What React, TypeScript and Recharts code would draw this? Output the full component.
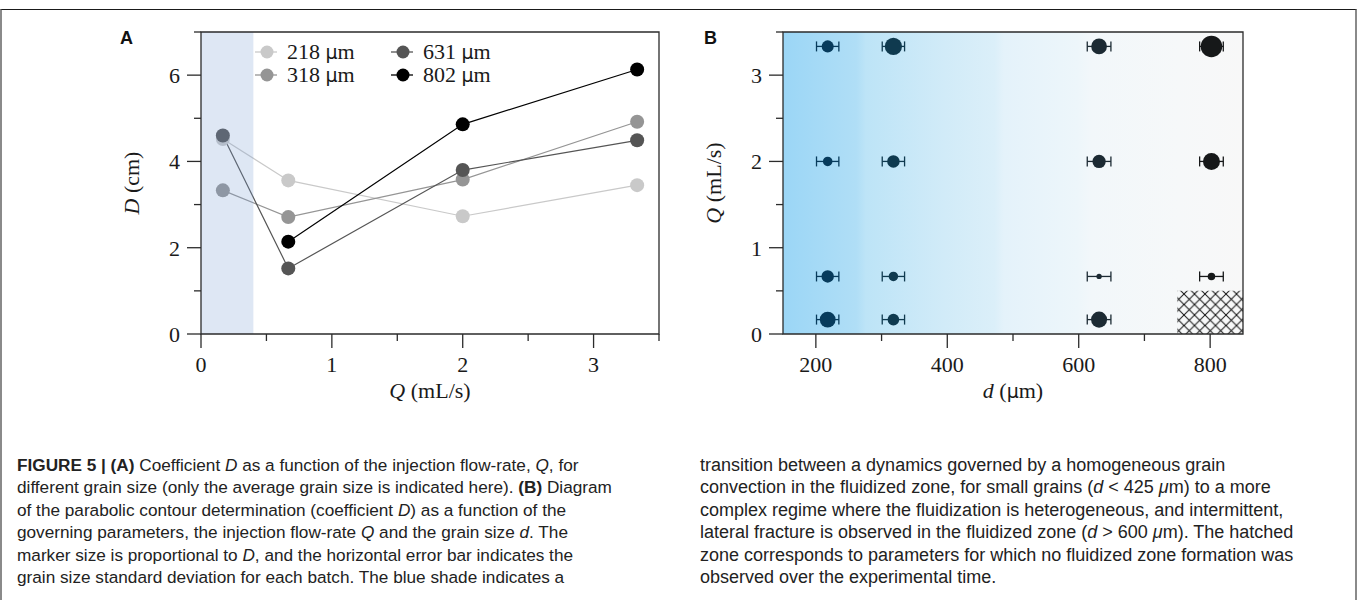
import React from "react";
import {
  ErrorBar,
  Label,
  Legend,
  Line,
  LineChart,
  ReferenceArea,
  Scatter,
  ScatterChart,
  XAxis,
  YAxis,
} from "recharts";

// injection flow-rate Q (mL/s) and grain sizes d (µm)
const flowRates = [0.167, 0.667, 2, 3.333];
const grainSizes = [218, 318, 631, 802];
const grainStd = [17, 17, 18, 18];

// coefficient D (cm), one list per grain size, same order as flowRates
const coefD218 = [4.52, 3.56, 2.73, 3.45];
const coefD318 = [3.33, 2.71, 3.58, 4.92];
const coefD631 = [4.6, 1.52, 3.8, 4.49];
const coefD802 = [null, 2.14, 4.86, 6.13];
const coefD = [coefD218, coefD318, coefD631, coefD802];

const greyColors = ["#c9c9c9", "#959595", "#555555", "#000000"];
const blueColors = ["#073b5c", "#0f3a4f", "#1c2a33", "#161819"];

const qTicksA = [0, 0.5, 1, 1.5, 2, 2.5, 3, 3.5];
const qMajorA = [0, 1, 2, 3];
const dTicksA = [0, 1, 2, 3, 4, 5, 6, 7];
const dMajorA = [0, 2, 4, 6];
const sizeTicksB = [200, 300, 400, 500, 600, 700, 800];
const sizeMajorB = [200, 400, 600, 800];
const qTicksB = [0, 0.5, 1, 1.5, 2, 2.5, 3, 3.5];
const qMajorB = [0, 1, 2, 3];

const seriesA = grainSizes.map((g, i) => ({
  name: String(g),
  color: greyColors[i],
  points: flowRates
    .map((q, j) => ({ Q: q, D: coefD[i][j] }))
    .filter((p) => p.D !== null),
}));

const seriesB = grainSizes.map((g, i) => ({
  name: String(g),
  color: blueColors[i],
  points: flowRates
    .map((q, j) => ({ d: g, Q: q, D: coefD[i][j], err: grainStd[i] }))
    .filter((p) => p.D !== null),
}));

const SERIF = "'Liberation Serif', 'DejaVu Serif', serif";
const MU = "'DejaVu Sans', sans-serif";
const SANS = "'Liberation Sans', Arial, sans-serif";
const AXIS = "#2b2b2b";
const TEXT = "#1a1a1a";
const MARKER_SCALE = 1.75; // px of radius per cm of D

function BottomTick(props: any) {
  const { x, y, payload, majors } = props;
  const major = majors.includes(payload.value);
  const len = major ? 14 : 7;
  return (
    <g>
      <line x1={x} x2={x} y1={y} y2={y + len} stroke={AXIS} strokeWidth={1.3} />
      {major && (
        <text x={x} y={y + 38} textAnchor="middle" fontFamily={SERIF} fontSize={22} fill={TEXT}>
          {payload.value}
        </text>
      )}
    </g>
  );
}

function LeftTick(props: any) {
  const { x, y, payload, majors } = props;
  const major = majors.includes(payload.value);
  const len = major ? 14 : 7;
  return (
    <g>
      <line x1={x - len} x2={x} y1={y} y2={y} stroke={AXIS} strokeWidth={1.3} />
      {major && (
        <text x={x - 21} y={y + 8} textAnchor="end" fontFamily={SERIF} fontSize={22} fill={TEXT}>
          {payload.value}
        </text>
      )}
    </g>
  );
}

function XTitle({ viewBox, italic, rest, mu }: any) {
  const vb = viewBox || { x: 0, y: 0, width: 0 };
  return (
    <text x={vb.x + vb.width / 2} y={vb.y + 64} textAnchor="middle" fontFamily={SERIF} fontSize={22} fill={TEXT}>
      <tspan fontStyle="italic">{italic}</tspan>
      {mu ? (
        <>
          <tspan> (</tspan>
          <tspan fontFamily={MU} fontSize={19}>μ</tspan>
          <tspan>m)</tspan>
        </>
      ) : (
        <tspan>{rest}</tspan>
      )}
    </text>
  );
}

function YTitle({ viewBox, italic, rest, dx }: any) {
  const vb = viewBox || { x: 0, y: 0, width: 0, height: 0 };
  const cx = vb.x + vb.width - dx;
  const cy = vb.y + vb.height / 2;
  return (
    <text
      x={cx}
      y={cy}
      transform={`rotate(-90, ${cx}, ${cy})`}
      textAnchor="middle"
      dominantBaseline="central"
      fontFamily={SERIF}
      fontSize={22}
      fill={TEXT}
    >
      <tspan fontStyle="italic">{italic}</tspan>
      <tspan>{rest}</tspan>
    </text>
  );
}

function GrainLegend({ payload }: any) {
  const items = payload || [];
  return (
    <div
      style={{
        display: "grid",
        gridTemplateRows: "repeat(2, 23px)",
        gridAutoFlow: "column",
        gridAutoColumns: "136px",
      }}
    >
      {items.map((item: any) => (
        <div key={item.value} style={{ display: "flex", alignItems: "center", height: 23 }}>
          <svg width={22} height={16} style={{ flex: "none" }}>
            <line x1={0} x2={22} y1={8} y2={8} stroke={item.color} strokeWidth={1.3} />
            <circle cx={12} cy={8} r={6.5} fill={item.color} />
          </svg>
          <span style={{ marginLeft: 10, fontFamily: SERIF, fontSize: 22, color: TEXT, lineHeight: "23px", whiteSpace: "nowrap" }}>
            {item.value} <span style={{ fontFamily: MU, fontSize: 19 }}>μ</span>m
          </span>
        </div>
      ))}
    </div>
  );
}

function SizedDot(props: any) {
  const { cx, cy, payload, fill } = props;
  if (cx == null || cy == null) return null;
  return <circle cx={cx} cy={cy} r={MARKER_SCALE * payload.D} fill={fill} />;
}

function PanelA() {
  return (
    <LineChart width={680} height={430} margin={{ top: 32, right: 21, bottom: 95, left: 200 }}>
      <XAxis
        dataKey="Q"
        type="number"
        domain={[0, 3.5]}
        ticks={qTicksA}
        height={1}
        tickSize={0}
        tickMargin={0}
        axisLine={false}
        tickLine={false}
        interval={0}
        tick={(p: any) => <BottomTick {...p} majors={qMajorA} />}
      >
        <Label content={(p: any) => <XTitle viewBox={p.viewBox} italic="Q" rest=" (mL/s)" />} />
      </XAxis>
      <YAxis
        type="number"
        domain={[0, 7]}
        ticks={dTicksA}
        width={1}
        tickSize={0}
        tickMargin={0}
        axisLine={false}
        tickLine={false}
        interval={0}
        tick={(p: any) => <LeftTick {...p} majors={dMajorA} />}
      >
        <Label content={(p: any) => <YTitle viewBox={p.viewBox} italic="D" rest=" (cm)" dx={70} />} />
      </YAxis>
      {seriesA.map((s) => (
        <Line
          key={s.name}
          data={s.points}
          dataKey="D"
          name={s.name}
          stroke={s.color}
          strokeWidth={1.2}
          dot={{ r: 7, fill: s.color, stroke: "none" }}
          activeDot={false}
          isAnimationActive={false}
        />
      ))}
      <ReferenceArea x1={0} x2={0.4} fill="#7a9fd4" fillOpacity={0.25} stroke="none" zIndex={1500} />
      <ReferenceArea x1={0} x2={3.5} y1={0} y2={7} fill="none" stroke={AXIS} strokeWidth={1.3} zIndex={1600} />
      <Legend
        layout="horizontal"
        verticalAlign="middle"
        align="center"
        wrapperStyle={{ left: 255, top: 40, width: "auto", height: "auto" }}
        content={(p: any) => <GrainLegend payload={p.payload} />}
      />
    </LineChart>
  );
}

function PanelB() {
  return (
    <ScatterChart width={590} height={430} margin={{ top: 32, right: 27, bottom: 95, left: 102 }}>
      <defs>
        <linearGradient id="fluidShade" x1="0" x2="1" y1="0" y2="0">
          <stop offset="0" stopColor="#9bd6f6" />
          <stop offset="0.16" stopColor="#b0def6" />
          <stop offset="0.18" stopColor="#bde4f7" />
          <stop offset="0.35" stopColor="#d1ebf8" />
          <stop offset="0.46" stopColor="#dbeff9" />
          <stop offset="0.48" stopColor="#e4f2fa" />
          <stop offset="0.64" stopColor="#edf6fa" />
          <stop offset="0.67" stopColor="#f2f7fa" />
          <stop offset="0.86" stopColor="#f6f8f9" />
          <stop offset="1" stopColor="#f8f8f8" />
        </linearGradient>
        <pattern id="crossHatch" patternUnits="userSpaceOnUse" width={10.5} height={10.5}>
          <path d="M0,0 L10.5,10.5 M10.5,0 L0,10.5" stroke="#111" strokeWidth={1} />
        </pattern>
      </defs>
      <XAxis
        dataKey="d"
        type="number"
        domain={[150, 850]}
        ticks={sizeTicksB}
        height={1}
        tickSize={0}
        tickMargin={0}
        axisLine={false}
        tickLine={false}
        interval={0}
        tick={(p: any) => <BottomTick {...p} majors={sizeMajorB} />}
      >
        <Label content={(p: any) => <XTitle viewBox={p.viewBox} italic="d" mu />} />
      </XAxis>
      <YAxis
        dataKey="Q"
        type="number"
        domain={[0, 3.5]}
        ticks={qTicksB}
        width={1}
        tickSize={0}
        tickMargin={0}
        axisLine={false}
        tickLine={false}
        interval={0}
        tick={(p: any) => <LeftTick {...p} majors={qMajorB} />}
      >
        <Label content={(p: any) => <YTitle viewBox={p.viewBox} italic="Q" rest=" (mL/s)" dx={70} />} />
      </YAxis>
      <ReferenceArea x1={150} x2={850} y1={0} y2={3.5} fill="url(#fluidShade)" fillOpacity={1} stroke="none" />
      <ReferenceArea x1={750} x2={850} y1={0} y2={0.5} fill="url(#crossHatch)" fillOpacity={1} stroke="none" />
      {seriesB.map((s) => (
        <Scatter
          key={s.name}
          data={s.points}
          name={s.name}
          fill={s.color}
          shape={<SizedDot />}
          isAnimationActive={false}
        >
          <ErrorBar dataKey="err" direction="x" width={5} stroke={s.color} strokeWidth={1.3} />
        </Scatter>
      ))}
      <ReferenceArea x1={150} x2={850} y1={0} y2={3.5} fill="none" stroke={AXIS} strokeWidth={1.3} zIndex={1600} />
    </ScatterChart>
  );
}

const captionLeft = [
  [["b", "FIGURE 5 | (A)"], ["", " Coefficient "], ["i", "D"], ["", " as a function of the injection flow-rate, "], ["i", "Q"], ["", ", for"]],
  [["", "different grain size (only the average grain size is indicated here). "], ["b", "(B)"], ["", " Diagram"]],
  [["", "of the parabolic contour determination (coefficient "], ["i", "D"], ["", ") as a function of the"]],
  [["", "governing parameters, the injection flow-rate "], ["i", "Q"], ["", " and the grain size "], ["i", "d"], ["", ". The"]],
  [["", "marker size is proportional to "], ["i", "D"], ["", ", and the horizontal error bar indicates the"]],
  [["", "grain size standard deviation for each batch. The blue shade indicates a"]],
];

const captionRight = [
  [["", "transition between a dynamics governed by a homogeneous grain"]],
  [["", "convection in the fluidized zone, for small grains ("], ["i", "d"], ["", " < 425 "], ["i", "μ"], ["", "m) to a more"]],
  [["", "complex regime where the fluidization is heterogeneous, and intermittent,"]],
  [["", "lateral fracture is observed in the fluidized zone ("], ["i", "d"], ["", " > 600 "], ["i", "μ"], ["", "m). The hatched"]],
  [["", "zone corresponds to parameters for which no fluidized zone formation was"]],
  [["", "observed over the experimental time."]],
];

function Caption({ lines, left, size }: { lines: string[][][]; left: number; size: number }) {
  return (
    <div style={{ position: "absolute", left, top: 454, fontFamily: SANS, fontSize: size, lineHeight: "22.4px", color: "#222" }}>
      {lines.map((line, i) => (
        <div key={i} style={{ whiteSpace: "nowrap" }}>
          {line.map(([kind, txt], j) => (
            <span
              key={j}
              style={{
                fontWeight: kind === "b" ? 700 : 400,
                fontStyle: kind === "i" ? "italic" : "normal",
              }}
            >
              {txt}
            </span>
          ))}
        </div>
      ))}
    </div>
  );
}

export default function App() {
  return (
    <div style={{ position: "absolute", left: 0, top: 0, width: 1360, height: 600, background: "#fff", overflow: "hidden" }}>
      <div
        style={{
          position: "absolute",
          left: 0,
          top: 9,
          width: 1357,
          height: 600,
          boxSizing: "border-box",
          borderTop: "1.5px solid #1a1a1a",
          borderLeft: "2px solid #8a8a8a",
          borderRight: "2px solid #8a8a8a",
        }}
      />
      <div style={{ position: "absolute", left: 0, top: 0 }}>
        <PanelA />
      </div>
      <div style={{ position: "absolute", left: 680, top: 0 }}>
        <PanelB />
      </div>
      <div style={{ position: "absolute", left: 120, top: 28, fontFamily: SANS, fontWeight: 700, fontSize: 18, color: "#111" }}>A</div>
      <div style={{ position: "absolute", left: 704, top: 28, fontFamily: SANS, fontWeight: 700, fontSize: 18, color: "#111" }}>B</div>
      <Caption lines={captionLeft} left={17} size={17.2} />
      <Caption lines={captionRight} left={700} size={18} />
    </div>
  );
}
